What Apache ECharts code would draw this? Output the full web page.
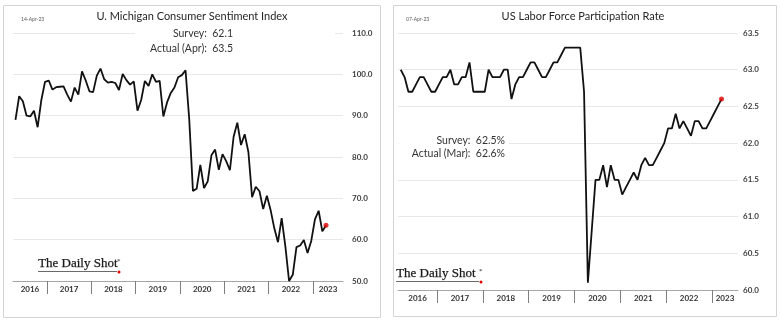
<!DOCTYPE html>
<html>
<head>
<meta charset="utf-8">
<script src="https://cdn.jsdelivr.net/npm/echarts@6/dist/echarts.min.js"></script>
<style>
html,body{margin:0;padding:0;background:#fff;}
#chart{width:780px;height:323px;}
</style>
</head>
<body>
<div id="chart"></div>
<script>
// ---- Data ----
// U. Michigan Consumer Sentiment, monthly, Apr 2016 .. Apr 2023
const umichStart = [2016, 4];
const umichValues = [
  89.0, 94.7, 93.5, 90.0, 89.8, 91.2, 87.2, 93.8, 98.2,
  98.5, 96.3, 96.9, 97.0, 97.1, 95.1, 93.4, 96.8, 95.1, 100.7, 98.5, 95.9,
  95.7, 99.7, 101.4, 98.8, 98.0, 98.2, 97.9, 96.2, 100.1, 98.6, 97.5, 98.3,
  91.2, 93.8, 98.4, 97.2, 100.0, 98.2, 98.4, 89.8, 93.2, 95.5, 96.8, 99.3,
  99.8, 101.0, 89.1, 71.8, 72.3, 78.1, 72.5, 74.1, 80.4, 81.8, 76.9, 80.7,
  79.0, 76.8, 84.9, 88.3, 82.9, 85.5, 81.2, 70.3, 72.8, 71.7, 67.4, 70.6,
  67.2, 62.8, 59.4, 65.2, 58.4, 50.0, 51.5, 58.2, 58.6, 59.9, 56.8, 59.7,
  64.9, 67.0, 62.0, 63.5
];
// US Labor Force Participation Rate, monthly, Mar 2016 .. Mar 2023
const lfprStart = [2016, 3];
const lfprValues = [
  63.0, 62.9, 62.7, 62.7, 62.8, 62.9, 62.9, 62.8, 62.7, 62.7,
  62.8, 62.9, 62.9, 63.0, 62.8, 62.8, 62.9, 62.9, 63.1, 62.7, 62.7, 62.7,
  62.7, 63.0, 62.9, 62.9, 62.9, 63.0, 63.0, 62.6, 62.8, 62.9, 62.9, 63.0,
  63.1, 63.1, 63.0, 62.9, 62.9, 63.0, 63.1, 63.1, 63.2, 63.3, 63.3, 63.3,
  63.3, 63.3, 62.7, 60.1, 60.8, 61.5, 61.5, 61.7, 61.4, 61.7, 61.5, 61.5,
  61.3, 61.4, 61.5, 61.6, 61.5, 61.7, 61.8, 61.7, 61.7, 61.8, 61.9, 62.0,
  62.2, 62.2, 62.4, 62.2, 62.3, 62.2, 62.1, 62.3, 62.3, 62.2, 62.2, 62.3,
  62.4, 62.5, 62.6
];
const years = [2016, 2017, 2018, 2019, 2020, 2021, 2022, 2023];
const umichTicks = [50, 60, 70, 80, 90, 100, 110];
const lfprTicks = [60.0, 60.5, 61.0, 61.5, 62.0, 62.5, 63.0, 63.5];
const umichRange = [2016.236, 2023.674];
const lfprRange = [2016.148, 2023.568];

// ---- helpers ----
function toPoints(start, values) {
  return values.map(function (v, i) {
    const m = start[1] - 1 + i;
    const y = start[0] + Math.floor(m / 12);
    const mo = m % 12;
    return [y + (mo + 0.5) / 12, v];
  });
}
function yearLabelPos(range) {
  return years.map(function (y) {
    const a = Math.max(y, range[0]);
    const b = Math.min(y + 1, range[1]);
    return (a + b) / 2;
  });
}
const umichPts = toPoints(umichStart, umichValues);
const lfprPts = toPoints(lfprStart, lfprValues);

const FONT = 'Lato, "Open Sans", sans-serif';

function xAxisFor(gridIndex, range) {
  return {
    type: 'value', gridIndex: gridIndex, min: range[0], max: range[1],
    axisLine: { show: true, onZero: false, lineStyle: { color: '#a6a6a6', width: 1 } },
    axisTick: { show: true, customValues: years.slice(1), length: 13, lineStyle: { color: '#7f7f7f', width: 1 } },
    axisLabel: { customValues: yearLabelPos(range), formatter: function (v) { return String(Math.floor(v)); },
      fontSize: 8, fontWeight: 'bold', color: '#333', fontFamily: FONT, margin: 4 },
    splitLine: { show: false }
  };
}
function yAxisFor(gridIndex, ticks, interval, margin) {
  return {
    type: 'value', gridIndex: gridIndex, position: 'right',
    min: ticks[0], max: ticks[ticks.length - 1], interval: interval,
    axisLine: { show: false }, axisTick: { show: false },
    axisLabel: { formatter: function (v) { return v.toFixed(1); }, fontSize: 8, fontWeight: 'bold',
      color: '#404040', fontFamily: FONT, margin: margin },
    splitLine: { show: true, lineStyle: { color: '#e8e8e8', width: 1 } }
  };
}

const chart = echarts.init(document.getElementById('chart'), null, { renderer: 'canvas' });
const lastU = umichPts[umichPts.length - 1];
const lastL = lfprPts[lfprPts.length - 1];

function logo(x, y, w) {
  return [
    { type: 'text', left: x, top: y - 9, z: 5,
      style: { text: 'The Daily Shot', font: '13px "Liberation Serif", "DejaVu Serif", serif', fill: '#1a1a1a', stroke: '#1a1a1a', lineWidth: 0.25 } },
    { type: 'line', z: 5, shape: { x1: x, y1: y + 5.5, x2: x + w - 1, y2: y + 5.5 }, style: { stroke: '#444', lineWidth: 0.8 } },
    { type: 'text', left: x + w - 1, top: y - 8, z: 5,
      style: { text: '*', font: '7px "Liberation Serif", serif', fill: '#222' } },
    { type: 'circle', z: 5, shape: { cx: x + w + 1, cy: y + 6, r: 1.5 }, style: { fill: '#e00000' } }
  ];
}

const option = {
  animation: false,
  backgroundColor: '#fff',
  grid: [
    { left: 13, top: 33, width: 330, height: 248 },
    { left: 398, top: 33, width: 340, height: 257 }
  ],
  xAxis: [xAxisFor(0, umichRange), xAxisFor(1, lfprRange)],
  yAxis: [yAxisFor(0, umichTicks, 10, 9), yAxisFor(1, lfprTicks, 0.5, 5)],
  series: [
    { type: 'line', xAxisIndex: 0, yAxisIndex: 0, data: umichPts, showSymbol: false,
      lineStyle: { color: '#111', width: 1.8 }, z: 3 },
    { type: 'scatter', xAxisIndex: 0, yAxisIndex: 0, data: [lastU], symbolSize: 5,
      itemStyle: { color: '#e00000' }, z: 4 },
    { type: 'line', xAxisIndex: 1, yAxisIndex: 1, data: lfprPts, showSymbol: false,
      lineStyle: { color: '#111', width: 1.8 }, z: 3 },
    { type: 'scatter', xAxisIndex: 1, yAxisIndex: 1, data: [lastL], symbolSize: 5,
      itemStyle: { color: '#e00000' }, z: 4 }
  ],
  graphic: [
    { type: 'rect', z: 0, shape: { x: 3.5, y: 5.5, width: 377, height: 312 }, style: { fill: 'none', stroke: '#d4d4d4', lineWidth: 1 } },
    { type: 'rect', z: 0, shape: { x: 393.5, y: 5.5, width: 383, height: 311 }, style: { fill: 'none', stroke: '#d4d4d4', lineWidth: 1 } },
    // white annotation boxes
    { type: 'rect', z: 1, shape: { x: 135, y: 26, width: 200, height: 30 }, style: { fill: '#fff' } },
    { type: 'rect', z: 1, shape: { x: 399, y: 132, width: 110, height: 28 }, style: { fill: '#fff' } },
    // titles
    { type: 'text', z: 5, x: 192, y: 16, style: { text: 'U. Michigan Consumer Sentiment Index', font: '11px ' + FONT, fill: '#262626', textAlign: 'center', textVerticalAlign: 'middle' } },
    { type: 'text', z: 5, x: 583, y: 16, style: { text: 'US Labor Force Participation Rate', font: '11px ' + FONT, fill: '#262626', textAlign: 'center', textVerticalAlign: 'middle' } },
    // dates
    { type: 'text', z: 5, x: 21, y: 19, style: { text: '14-Apr-23', font: '5px ' + FONT, fill: '#595959', textVerticalAlign: 'middle' } },
    { type: 'text', z: 5, x: 406, y: 19, style: { text: '07-Apr-23', font: '5px ' + FONT, fill: '#595959', textVerticalAlign: 'middle' } },
    // annotations
    { type: 'text', z: 5, x: 233, y: 34, style: { text: 'Survey:  62.1', font: '10.5px ' + FONT, fill: '#333', textAlign: 'right', textVerticalAlign: 'middle' } },
    { type: 'text', z: 5, x: 233, y: 49, style: { text: 'Actual (Apr):  63.5', font: '10.5px ' + FONT, fill: '#333', textAlign: 'right', textVerticalAlign: 'middle' } },
    { type: 'text', z: 5, x: 505, y: 141, style: { text: 'Survey:  62.5%', font: '10.5px ' + FONT, fill: '#333', textAlign: 'right', textVerticalAlign: 'middle' } },
    { type: 'text', z: 5, x: 505, y: 154, style: { text: 'Actual (Mar):  62.6%', font: '10.5px ' + FONT, fill: '#333', textAlign: 'right', textVerticalAlign: 'middle' } }
  ].concat(logo(38, 266, 80)).concat(logo(396, 276, 84))
};
chart.setOption(option);
</script>
</body>
</html>
